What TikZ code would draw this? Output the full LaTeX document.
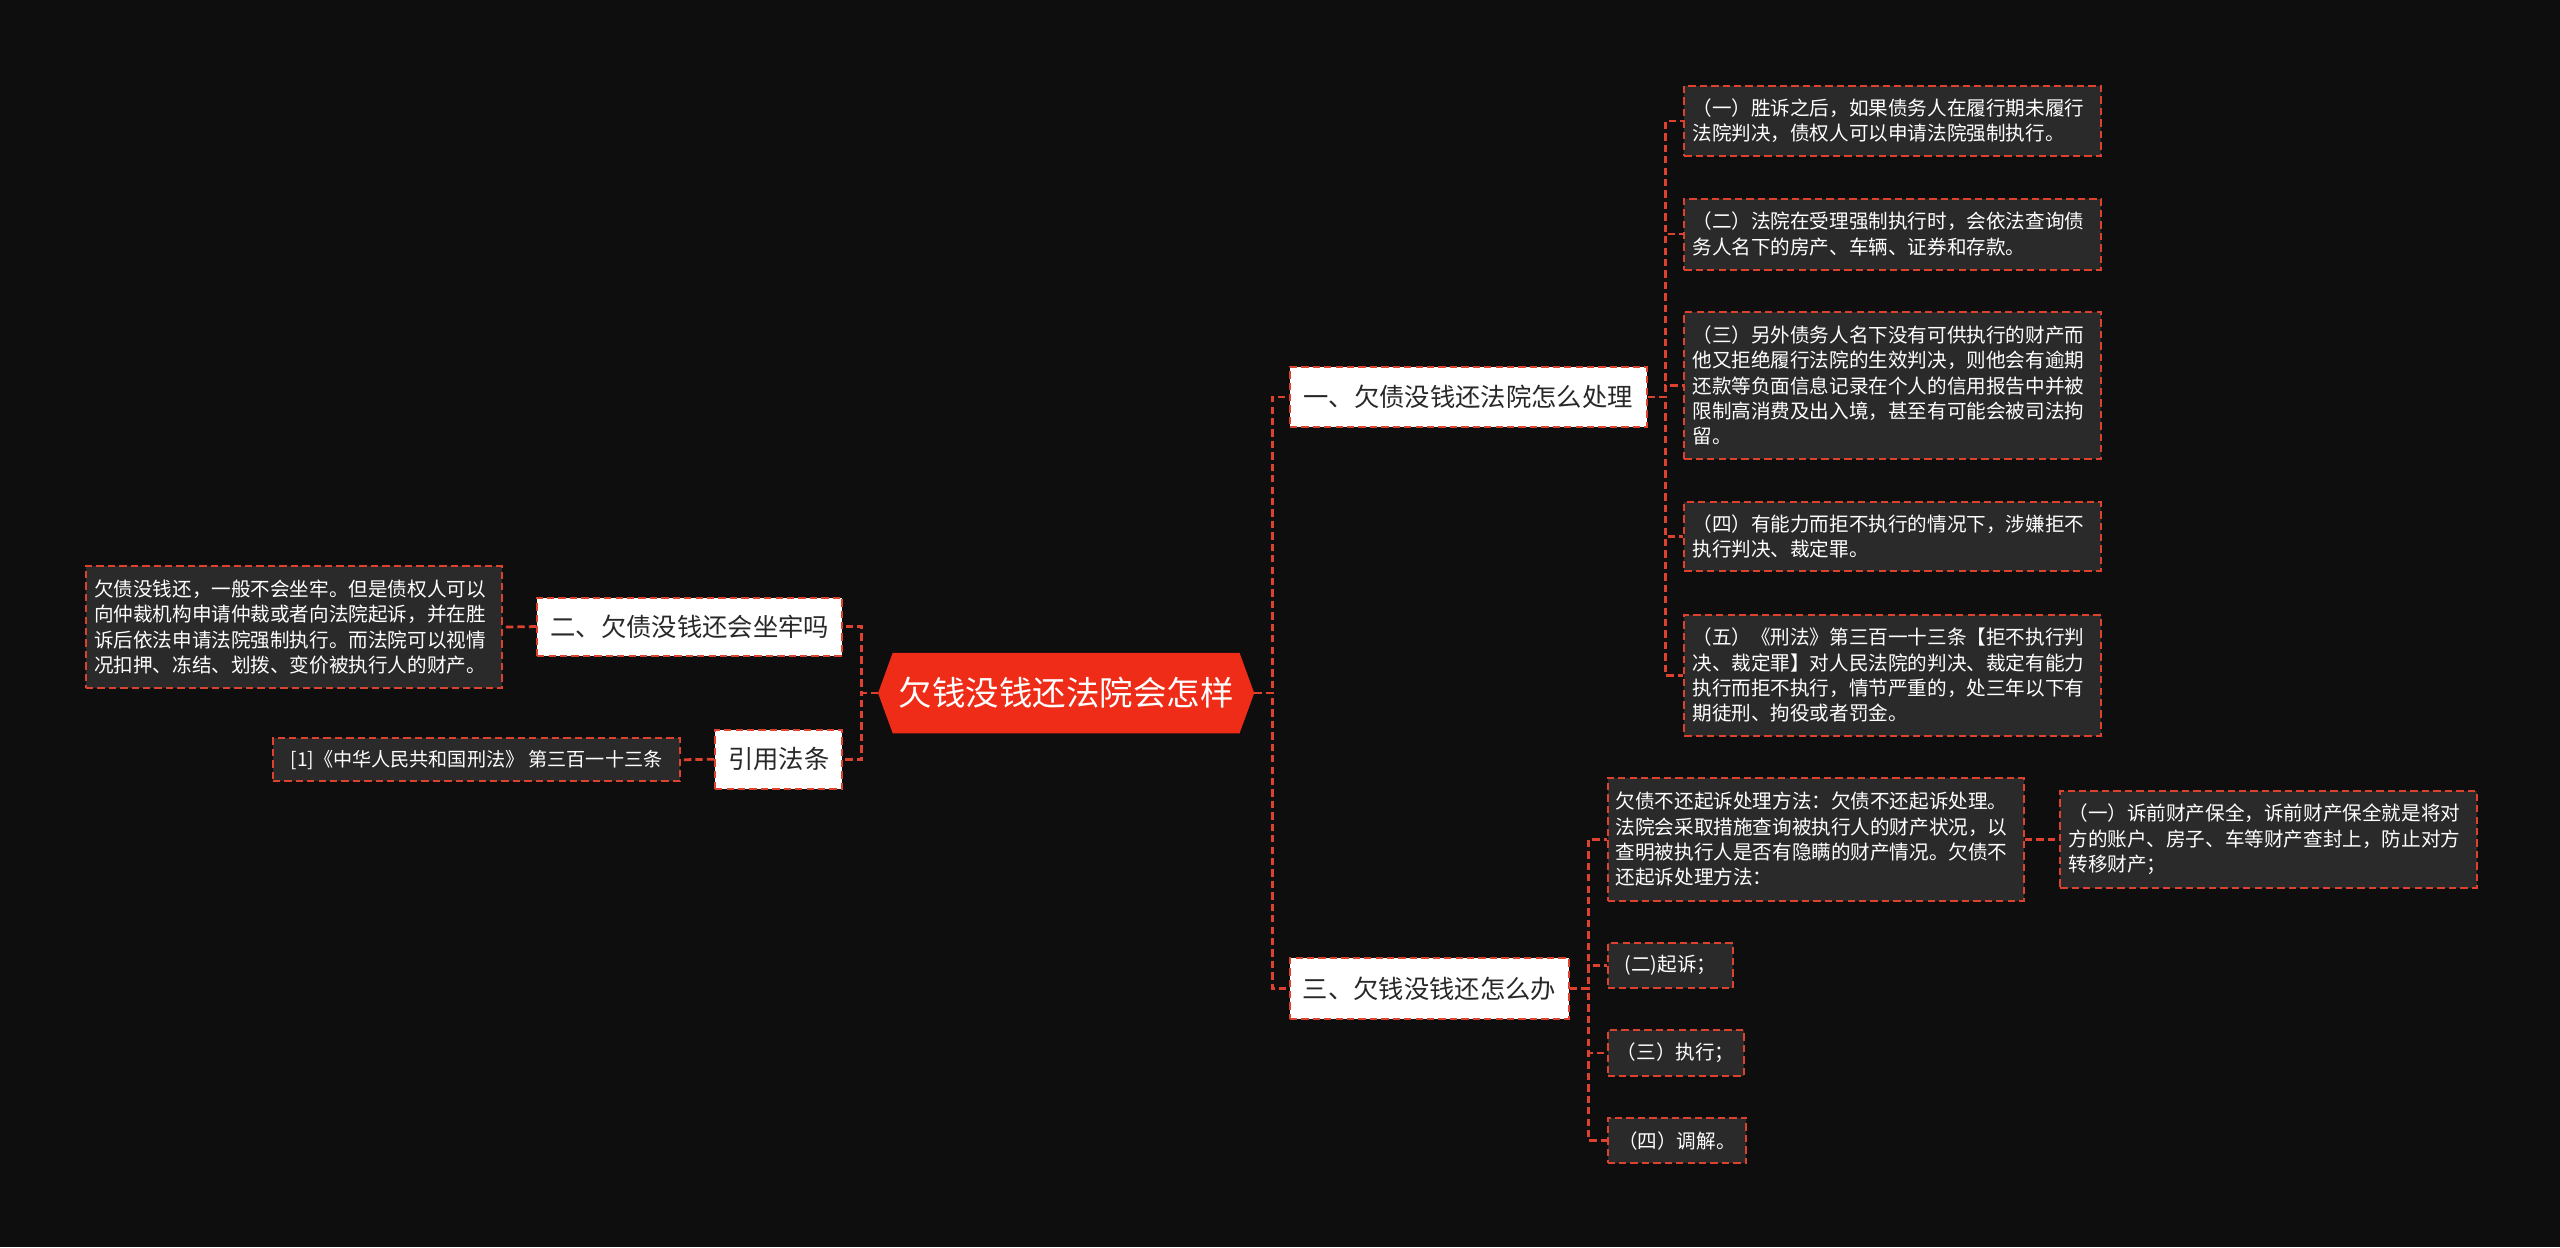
\documentclass[tikz,border=0pt]{standalone}
\usepackage{fontspec}
\setmainfont{Noto Sans CJK SC}
\usetikzlibrary{backgrounds}
\definecolor{bgc}{RGB}{14,14,14}
\definecolor{lr}{RGB}{220,66,46}
\definecolor{rootred}{RGB}{238,44,24}
\definecolor{leafbg}{RGB}{42,42,42}
\definecolor{darktext}{RGB}{40,40,40}
\tikzset{
  link/.style={draw=lr, line width=1.7pt, dash pattern=on 4.5pt off 2.5pt},
  boxline/.style={draw=lr, line width=1.2pt, dash pattern=on 4.5pt off 2.5pt},
  topic/.style={boxline, fill=white, text=darktext,
    font=\fontsize{15.5}{18}\selectfont, inner sep=0pt},
  leaf/.style={boxline, fill=leafbg, text=white,
    font=\fontsize{12}{15.5}\selectfont, inner xsep=5pt, inner ysep=0pt, anchor=north west, align=left},
  shortleaf/.style={leaf, inner xsep=0pt, align=center},
}
\begin{document}
\begin{tikzpicture}[x=1pt,y=-1pt]
\useasboundingbox (0,0) rectangle (1568,764);
\begin{scope}[on background layer]
  \fill[bgc] (0,0) rectangle (1568,764);
\end{scope}

% root
\node[text=white, font=\fontsize{20.5}{24}\selectfont, minimum width=230pt, minimum height=49pt, inner sep=0pt] (root) at (653,424.5) {欠钱没钱还法院会怎样};

% left side
\node[topic, minimum width=187pt, minimum height=35.5pt] (n2) at (422.5,383.75) {二、欠债没钱还会坐牢吗};
\node[topic, minimum width=78pt, minimum height=36pt] (law) at (477,465) {引用法条};
\node[leaf, text width=245pt, minimum width=254.5pt, minimum height=75pt] (n2c) at (52,346)
  {欠债没钱还，一般不会坐牢。但是债权人可以\\向仲裁机构申请仲裁或者向法院起诉，并在胜\\诉后依法申请法院强制执行。而法院可以视情\\况扣押、冻结、划拨、变价被执行人的财产。};
\node[shortleaf, font=\fontsize{11.7}{14}\selectfont, minimum width=249.5pt, minimum height=26.5pt] (lawc) at (166.5,451.5)
  {[1]《中华人民共和国刑法》 第三百一十三条};

% right side, first topic
\node[topic, minimum width=218.5pt, minimum height=36.5pt] (n1) at (899.25,243.1) {一、欠债没钱还法院怎么处理};
\node[leaf, text width=245pt, minimum width=254.5pt, minimum height=43pt] (c1) at (1031,52)
  {（一）胜诉之后，如果债务人在履行期未履行\\法院判决，债权人可以申请法院强制执行。};
\node[leaf, text width=245pt, minimum width=254.5pt, minimum height=43.5pt] (c2) at (1031,121)
  {（二）法院在受理强制执行时，会依法查询债\\务人名下的房产、车辆、证券和存款。};
\node[leaf, text width=245pt, minimum width=254.5pt, minimum height=90pt] (c3) at (1031,190.5)
  {（三）另外债务人名下没有可供执行的财产而\\他又拒绝履行法院的生效判决，则他会有逾期\\还款等负面信息记录在个人的信用报告中并被\\限制高消费及出入境，甚至有可能会被司法拘\\留。};
\node[leaf, text width=245pt, minimum width=254.5pt, minimum height=42pt] (c4) at (1031,307)
  {（四）有能力而拒不执行的情况下，涉嫌拒不\\执行判决、裁定罪。};
\node[leaf, text width=245pt, minimum width=254.5pt, minimum height=74pt] (c5) at (1031,376)
  {（五）《刑法》第三百一十三条【拒不执行判\\决、裁定罪】对人民法院的判决、裁定有能力\\执行而拒不执行，情节严重的，处三年以下有\\期徒刑、拘役或者罚金。};

% right side, third topic
\node[topic, minimum width=171pt, minimum height=37pt] (n3) at (875.5,605.5) {三、欠钱没钱还怎么办};
\node[leaf, text width=245pt, minimum width=254.5pt, minimum height=75pt] (A) at (984,476)
  {欠债不还起诉处理方法：欠债不还起诉处理。\\法院会采取措施查询被执行人的财产状况，以\\查明被执行人是否有隐瞒的财产情况。欠债不\\还起诉处理方法：};
\node[leaf, text width=245pt, minimum width=255pt, minimum height=59pt] (Ac) at (1261.3,484)
  {（一）诉前财产保全，诉前财产保全就是将对\\方的账户、房子、车等财产查封上，防止对方\\转移财产；};
\node[shortleaf, minimum width=77pt, minimum height=27.7pt] (s2) at (984,577) {(二)起诉；};
\node[shortleaf, minimum width=83.5pt, minimum height=28pt] (s3) at (984,630.4) {（三）执行；};
\node[shortleaf, minimum width=85pt, minimum height=28pt] (s4) at (984,684) {（四）调解。};

\begin{scope}[on background layer]
  \fill[rootred] (root.west) -- ([xshift=9pt]root.north west) -- ([xshift=-9pt]root.north east)
    -- (root.east) -- ([xshift=-9pt]root.south east) -- ([xshift=9pt]root.south west) -- cycle;
  \draw[link] (root.west) -- ++(-10,0) |- (n2.east);
  \draw[link] (root.west) -- ++(-10,0) |- (law.east);
  \draw[link] (n2.west) -- (n2c.east);
  \draw[link] (law.west) -- (lawc.east);
  \draw[link] (root.east) -- ++(11,0) |- (n1.west);
  \draw[link] (root.east) -- ++(11,0) |- (n3.west);
  \foreach \c in {c1,c2,c3,c4,c5} \draw[link] (n1.east) -- ++(11,0) |- (\c.west);
  \foreach \c in {A,s2,s3,s4} \draw[link] (n3.east) -- ++(11.4,0) |- (\c.west);
  \draw[link] (A.east) -- (Ac.west);
\end{scope}
\end{tikzpicture}
\end{document}
